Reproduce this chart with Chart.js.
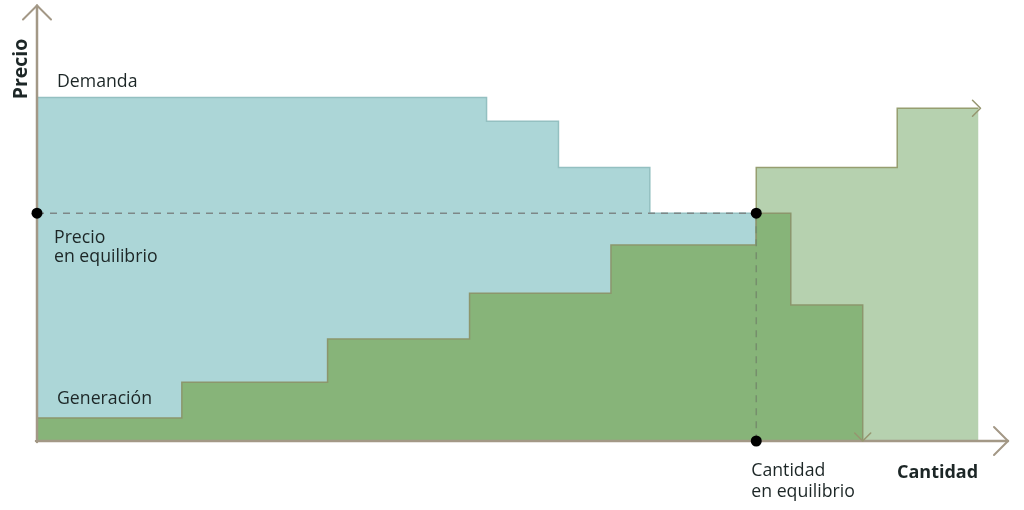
<!DOCTYPE html>
<html>
<head>
<meta charset="utf-8">
<script src="https://cdn.jsdelivr.net/npm/chart.js@4/dist/chart.umd.min.js"></script>
<style>
  html, body { margin: 0; padding: 0; background: #fff; }
  #wrap { width: 1024px; height: 510px; position: relative; }
</style>
</head>
<body>
<div id="wrap"><canvas id="market"></canvas></div>
<script>
// step curves (x = quantity, y = price), arbitrary units
const demandX = [0, 3.125, 3.625, 4.26, 5.0, 5.0];
const demandY = [7.89, 7.34, 6.28, 5.23, 5.23, 0];

const genX = [0, 1.007, 2.02, 3.007, 3.99, 5.0, 5.24, 5.74, 5.74];
const genY = [0.53, 1.35, 2.34, 3.39, 4.5, 5.23, 3.12, 3.12, 0];

const supplyX = [5.0, 5.0, 5.98, 6.545];
const supplyY = [0, 6.28, 7.64, 7.64];

// equilibrium
const eqQty = 5.0;
const eqPrice = 5.23;

const axisMaxX = 6.75;
const axisMaxY = 10;

const toPoints = (xs, ys) => xs.map((x, i) => ({ x, y: ys[i] }));

const AXIS_COLOR = 'rgb(163,152,134)';
const TEXT_COLOR = '#1c2626';
const FONT = '"Open Sans", "DejaVu Sans", sans-serif';

function chevron(ctx, x, y, dir, size) {
  ctx.beginPath();
  if (dir === 'right') {
    ctx.moveTo(x - size, y - size);
    ctx.lineTo(x, y);
    ctx.lineTo(x - size, y + size);
  } else if (dir === 'up') {
    ctx.moveTo(x - size, y + size);
    ctx.lineTo(x, y);
    ctx.lineTo(x + size, y + size);
  } else if (dir === 'down') {
    ctx.moveTo(x - size, y - size);
    ctx.lineTo(x, y);
    ctx.lineTo(x + size, y - size);
  }
  ctx.stroke();
}

const axesPlugin = {
  id: 'axesArrows',
  beforeDatasetDraw(chart, args) {
    // axes go just under the equilibrium dots
    if (args.index !== 5) return;
    const { ctx, scales: { x, y } } = chart;
    const x0 = x.getPixelForValue(0);
    const y0 = y.getPixelForValue(0);
    const xEnd = x.getPixelForValue(axisMaxX);
    const yEnd = y.getPixelForValue(axisMaxY);
    ctx.save();
    ctx.strokeStyle = AXIS_COLOR;
    ctx.lineWidth = 2.5;
    ctx.lineCap = 'round';
    ctx.lineJoin = 'round';
    ctx.beginPath();
    ctx.moveTo(x0, y0 + 1);
    ctx.lineTo(x0, yEnd);
    ctx.moveTo(x0 - 1, y0);
    ctx.lineTo(xEnd, y0);
    ctx.stroke();
    ctx.lineWidth = 2;
    chevron(ctx, x0, yEnd, 'up', 14);
    chevron(ctx, xEnd, y0, 'right', 14);
    // small arrows at the end of the supply curves
    ctx.strokeStyle = 'rgb(150,150,112)';
    ctx.lineWidth = 1.5;
    const last = supplyX.length - 1;
    chevron(ctx, x.getPixelForValue(supplyX[last]) + 2, y.getPixelForValue(supplyY[last]), 'right', 8);
    const gl = genX.length - 1;
    chevron(ctx, x.getPixelForValue(genX[gl]), y.getPixelForValue(genY[gl]), 'down', 8);
    ctx.restore();
  },
  afterDraw(chart) {
    const { ctx, scales: { x, y } } = chart;
    const x0 = x.getPixelForValue(0);
    const y0 = y.getPixelForValue(0);
    ctx.save();
    ctx.fillStyle = TEXT_COLOR;
    ctx.textBaseline = 'alphabetic';
    ctx.textAlign = 'left';
    ctx.font = '17.7px ' + FONT;
    ctx.fillText('Demanda', x0 + 20, y.getPixelForValue(demandY[0]) - 10);
    ctx.fillText('Precio', x0 + 17, y.getPixelForValue(eqPrice) + 30);
    ctx.fillText('en equilibrio', x0 + 17, y.getPixelForValue(eqPrice) + 49);
    ctx.fillText('Generación', x0 + 20, y.getPixelForValue(genY[0]) - 14);
    const qx = x.getPixelForValue(eqQty);
    ctx.fillText('Cantidad', qx - 5, y0 + 35);
    ctx.fillText('en equilibrio', qx - 5, y0 + 56);
    ctx.font = 'bold 18px ' + FONT;
    ctx.fillText('Cantidad', 897, y0 + 37);
    ctx.font = 'bold 19.5px ' + FONT;
    ctx.translate(27, 69);
    ctx.rotate(-Math.PI / 2);
    ctx.textAlign = 'center';
    ctx.fillText('Precio', 0, 0);
    ctx.restore();
  }
};

const ctx = document.getElementById('market').getContext('2d');
new Chart(ctx, {
  type: 'scatter',
  data: {
    datasets: [
      {
        label: 'Demanda',
        data: toPoints(demandX, demandY),
        showLine: true,
        stepped: true,
        fill: 'origin',
        backgroundColor: 'rgb(172,214,215)',
        borderColor: 'rgb(148,192,193)',
        borderWidth: 1.5,
        pointRadius: 0,
        clip: false,
        order: 6
      },
      {
        label: 'Oferta',
        data: toPoints(supplyX, supplyY),
        showLine: true,
        stepped: true,
        fill: 'origin',
        backgroundColor: 'rgb(182,209,175)',
        borderColor: 'rgb(150,158,112)',
        borderWidth: 1.5,
        pointRadius: 0,
        clip: false,
        order: 5
      },
      {
        label: 'Generación',
        data: toPoints(genX, genY),
        showLine: true,
        stepped: true,
        fill: 'origin',
        backgroundColor: 'rgb(135,180,121)',
        borderColor: 'rgb(140,150,108)',
        borderWidth: 1.5,
        pointRadius: 0,
        clip: false,
        order: 4
      },
      {
        label: 'Precio equilibrio',
        data: [{ x: 0, y: eqPrice }, { x: eqQty, y: eqPrice }],
        showLine: true,
        borderColor: 'rgb(125,135,135)',
        borderWidth: 1.5,
        borderDash: [7, 6],
        pointRadius: 0,
        fill: false,
        clip: false,
        order: 3
      },
      {
        label: 'Cantidad equilibrio',
        data: [{ x: eqQty, y: eqPrice }, { x: eqQty, y: 0 }],
        showLine: true,
        borderColor: 'rgb(118,142,108)',
        borderWidth: 1.5,
        borderDash: [7, 6],
        pointRadius: 0,
        fill: false,
        clip: false,
        order: 2
      },
      {
        label: 'Equilibrio',
        data: [{ x: 0, y: eqPrice }, { x: eqQty, y: eqPrice }, { x: eqQty, y: 0 }],
        showLine: false,
        pointRadius: 5.5,
        pointBackgroundColor: '#000',
        pointBorderWidth: 0,
        clip: false,
        order: 1
      }
    ]
  },
  options: {
    responsive: true,
    maintainAspectRatio: false,
    animation: false,
    layout: { padding: { left: 37, right: 16, top: 5, bottom: 69 } },
    scales: {
      x: { type: 'linear', min: 0, max: axisMaxX, display: false },
      y: { type: 'linear', min: 0, max: axisMaxY, display: false }
    },
    plugins: {
      legend: { display: false },
      tooltip: { enabled: false }
    },
    elements: { line: { tension: 0 } }
  },
  plugins: [axesPlugin]
});
</script>
</body>
</html>
